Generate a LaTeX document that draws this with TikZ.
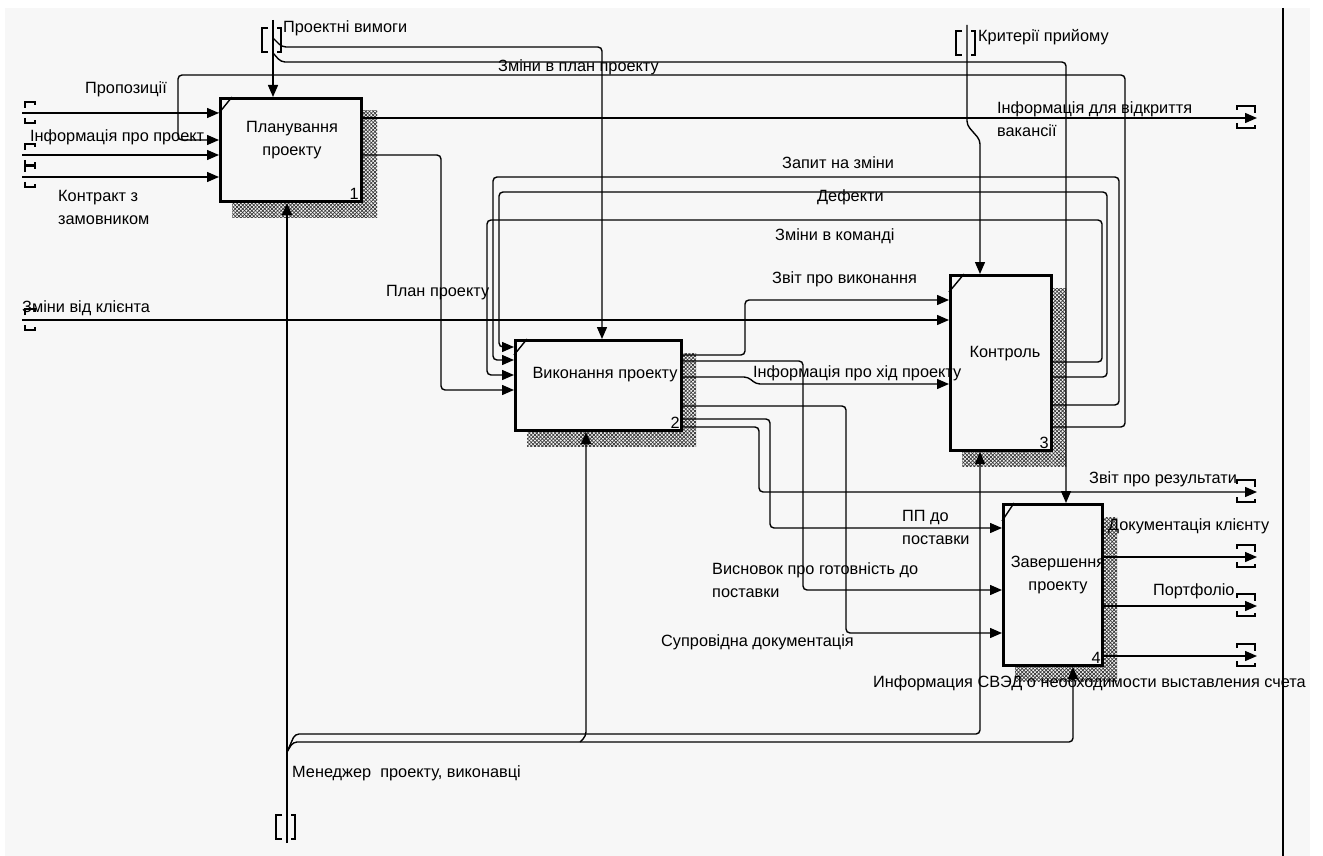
\documentclass[tikz,border=0pt]{standalone}
\usepackage{fontspec}
\setmainfont{Liberation Sans}
\usetikzlibrary{arrows.meta,patterns.meta}
\definecolor{bgc}{RGB}{247,247,247}
\begin{document}
\begin{tikzpicture}[x=1pt, y=-1pt,
        every node/.style={font=\fontsize{16.3}{23}\selectfont, inner sep=0pt, align=left},
        proc/.style={draw, line width=3pt, fill=bgc},
        shadwa/.style={pattern={Lines[angle=45,distance=2.6pt,line width=0.7pt]}, pattern color=black!80},
        shadwb/.style={pattern={Lines[angle=-45,distance=2.6pt,line width=0.7pt]}, pattern color=black!80},
        arr/.style={line width=1.4pt, rounded corners=4pt, -{Triangle[length=12pt,width=10pt]}},
        tunl/.pic={\draw[line width=1.4pt] (0,-5) -- (0,-11) -- (10,-11) -- (10,-8) (0,5) -- (0,10) -- (10,10) -- (10,7);},
        tunr/.pic={\draw[line width=1.4pt] (0,-8) -- (0,-12) -- (18,-12) -- (18,-5) (0,5) -- (0,10) -- (18,10) -- (18,7);},
        tunv/.pic={\draw[line width=1.4pt] (-5,0) -- (-11,0) -- (-11,24) -- (-5,24) (4,0) -- (8,0) -- (8,24) -- (4,24);}]

        \useasboundingbox (0,0) rectangle (1323,856);
        \fill[bgc] (5,8) rectangle (1310,856);
        \draw[line width=1.5pt] (1283,8) -- (1283,856);

        \fill[shadwa] (232,111) rectangle (377,217);
        \fill[shadwb] (232,111) rectangle (377,217);
        \fill[shadwa] (527,353) rectangle (696,446);
        \fill[shadwb] (527,353) rectangle (696,446);
        \fill[shadwa] (962,288) rectangle (1066,466);
        \fill[shadwb] (962,288) rectangle (1066,466);
        \fill[shadwa] (1015,517) rectangle (1117,681);
        \fill[shadwb] (1015,517) rectangle (1117,681);

        \node[proc, minimum width=141pt, minimum height=103pt] at (291,150)(plan){};
        \node[proc, minimum width=166pt, minimum height=90pt] at (598.5,385.5)(vyk){};
        \node[proc, minimum width=101pt, minimum height=175pt] at (1001,363)(kontr){};
        \node[proc, minimum width=99pt, minimum height=161pt] at (1053,585)(zav){};

        \draw[line width=1.4pt] ([shift={(0,16)}]plan.north west) -- ([shift={(13,0)}]plan.north west);
        \draw[line width=1.4pt] ([shift={(0,16)}]vyk.north west) -- ([shift={(13,0)}]vyk.north west);
        \draw[line width=1.4pt] ([shift={(0,18)}]kontr.north west) -- ([shift={(15,0)}]kontr.north west);
        \draw[line width=1.4pt] ([shift={(0,18)}]zav.north west) -- ([shift={(12,0)}]zav.north west);

        \node[align=center] at (292,140)(plantxt){Планування\\проекту};
        \node at (605,375)(vyktxt){Виконання проекту};
        \node at (1005,354)(kontrtxt){Контроль};
        \node[align=center] at (1058,575)(zavtxt){Завершення\\проекту};
        \node[anchor=south east] at ([shift={(-4,-3)}]plan.south east)(n1){1};
        \node[anchor=south east] at ([shift={(-3,-3)}]vyk.south east)(n2){2};
        \node[anchor=south east] at ([shift={(-4,-3)}]kontr.south east)(n3){3};
        \node[anchor=south east] at ([shift={(-3,-3)}]zav.south east)(n4){4};

        \coordinate (propoz) at (22,113);
        \coordinate (infopr) at (22,155);
        \coordinate (kontrakt) at (22,177);
        \coordinate (zminy) at (22,320);
        \coordinate (vymogy) at (273,20);
        \coordinate (kryt) at (967,25);
        \coordinate (menedzh) at (287,843);
        \coordinate (vakans) at (1257,118);
        \coordinate (rezult) at (1257,492);
        \coordinate (doku) at (1257,557);
        \coordinate (portf) at (1257,606);
        \coordinate (svd) at (1257,656);

        \pic at ([shift={(3,0)}]propoz) {tunl};
        \pic at ([shift={(3,0)}]infopr) {tunl};
        \pic at ([shift={(3,0)}]kontrakt) {tunl};
        \pic at ([shift={(3,0)}]zminy) {tunl};
        \pic at ([shift={(-20,0)}]vakans) {tunr};
        \pic at ([shift={(-20,0)}]rezult) {tunr};
        \pic at ([shift={(-20,0)}]doku) {tunr};
        \pic at ([shift={(-20,0)}]portf) {tunr};
        \pic at ([shift={(-20,0)}]svd) {tunr};
        \pic at ([shift={(0,8)}]vymogy) {tunv};
        \pic at ([shift={(0,6)}]kryt) {tunv};
        \pic at ([shift={(0,-28)}]menedzh) {tunv};

        \draw[arr] (propoz) -- (plan.west |- propoz);
        \draw[arr] (infopr) -- (plan.west |- infopr);
        \draw[arr] (kontrakt) -- (plan.west |- kontrakt);
        \draw[arr] (zminy) -- (kontr.west |- zminy);
        \draw[arr] (vymogy) -- (plan.north -| vymogy);
        \draw[arr] (273,38) -- (282,47) -- (602,47) -- (vyk.north -| 602,0);
        \draw[arr] (273,53) -- (281,62) -- (1066,62) -- (zav.north -| 1066,0);
        \draw[arr] (kryt) -- (967,125) -- (980,140) -- (kontr.north -| 980,0);
        \draw[arr] (plan.east |- vakans) -- (vakans);
        \draw[arr] (plan.east |- 0,155) -- (441,155) -- (441,390) -- (vyk.west |- 0,390);
        \draw[arr] (kontr.east |- 0,427) -- (1125,427) -- (1125,75) -- (178,75) -- (178,140) -- (plan.west |- 0,140);
        \draw[arr] (kontr.east |- 0,405) -- (1119,405) -- (1119,177) -- (493,177) -- (493,360) -- (vyk.west |- 0,360);
        \draw[arr] (kontr.east |- 0,377) -- (1107,377) -- (1107,192) -- (499,192) -- (499,347) -- (vyk.west |- 0,347);
        \draw[arr] (kontr.east |- 0,362) -- (1102,362) -- (1102,220) -- (487,220) -- (487,375) -- (vyk.west |- 0,375);
        \draw[arr] (vyk.east |- 0,355) -- (745,355) -- (745,300) -- (kontr.west |- 0,300);
        \draw[arr] (vyk.east |- 0,361) -- (803,361) -- (803,590) -- (zav.west |- 0,590);
        \draw[arr] (vyk.east |- 0,377) -- (748,377) -- (756,384) -- (kontr.west |- 0,384);
        \draw[arr] (vyk.east |- 0,406) -- (846,406) -- (846,633) -- (zav.west |- 0,633);
        \draw[arr] (vyk.east |- 0,419) -- (770,419) -- (770,528) -- (zav.west |- 0,528);
        \draw[arr] (vyk.east |- 0,427) -- (759,427) -- (759,492) -- (rezult);
        \draw[arr] (zav.east |- doku) -- (doku);
        \draw[arr] (zav.east |- portf) -- (portf);
        \draw[arr] (zav.east |- svd) -- (svd);
        \draw[arr] (menedzh) -- (plan.south -| menedzh);
        \draw[arr] (287,752) -- (295,734) -- (980,734) -- (kontr.south -| 980,0);
        \draw[arr] (287,752) -- (293,742) -- (1073,742) -- (zav.south -| 1073,0);
        \draw[arr] (580,742) -- (586,736) -- (vyk.south -| 586,0);

        \node[anchor=west] at (85,89)(l1){Пропозиції};
        \node[anchor=west] at (30,137)(l2){Інформація про проект};
        \node[anchor=west] at (58,207)(l3){Контракт з\\замовником};
        \node[anchor=west] at (283,28)(l4){Проектні вимоги};
        \node[anchor=west] at (498,67)(l5){Зміни в план проекту};
        \node[anchor=west] at (978,37)(l6){Критерії прийому};
        \node[anchor=west] at (997,119)(l7){Інформація для відкриття\\вакансії};
        \node[anchor=west] at (782,163)(l8){Запит на зміни};
        \node[anchor=west] at (817,197)(l9){Дефекти};
        \node[anchor=west] at (775,236)(l10){Зміни в команді};
        \node[anchor=west] at (386,293)(l11){План проекту};
        \node[anchor=west] at (772,279)(l12){Звіт про виконання};
        \node[anchor=west] at (22,308)(l13){Зміни від клієнта};
        \node[anchor=west] at (753,373)(l14){Інформація про хід проекту};
        \node[anchor=west] at (1089,479)(l15){Звіт про результати};
        \node[anchor=west] at (902,527)(l16){ПП до\\поставки};
        \node[anchor=west] at (1108,526)(l17){Документація клієнту};
        \node[anchor=west] at (712,580)(l18){Висновок про готовність до\\поставки};
        \node[anchor=west] at (1153,591)(l19){Портфоліо};
        \node[anchor=west] at (661,642)(l20){Супровідна документація};
        \node[anchor=west] at (873,683)(l21){Информация СВЭД о необходимости выставления счета};
        \node[anchor=west] at (292,773)(l22){Менеджер\ \ проекту, виконавці};
    \end{tikzpicture}
\end{document}
